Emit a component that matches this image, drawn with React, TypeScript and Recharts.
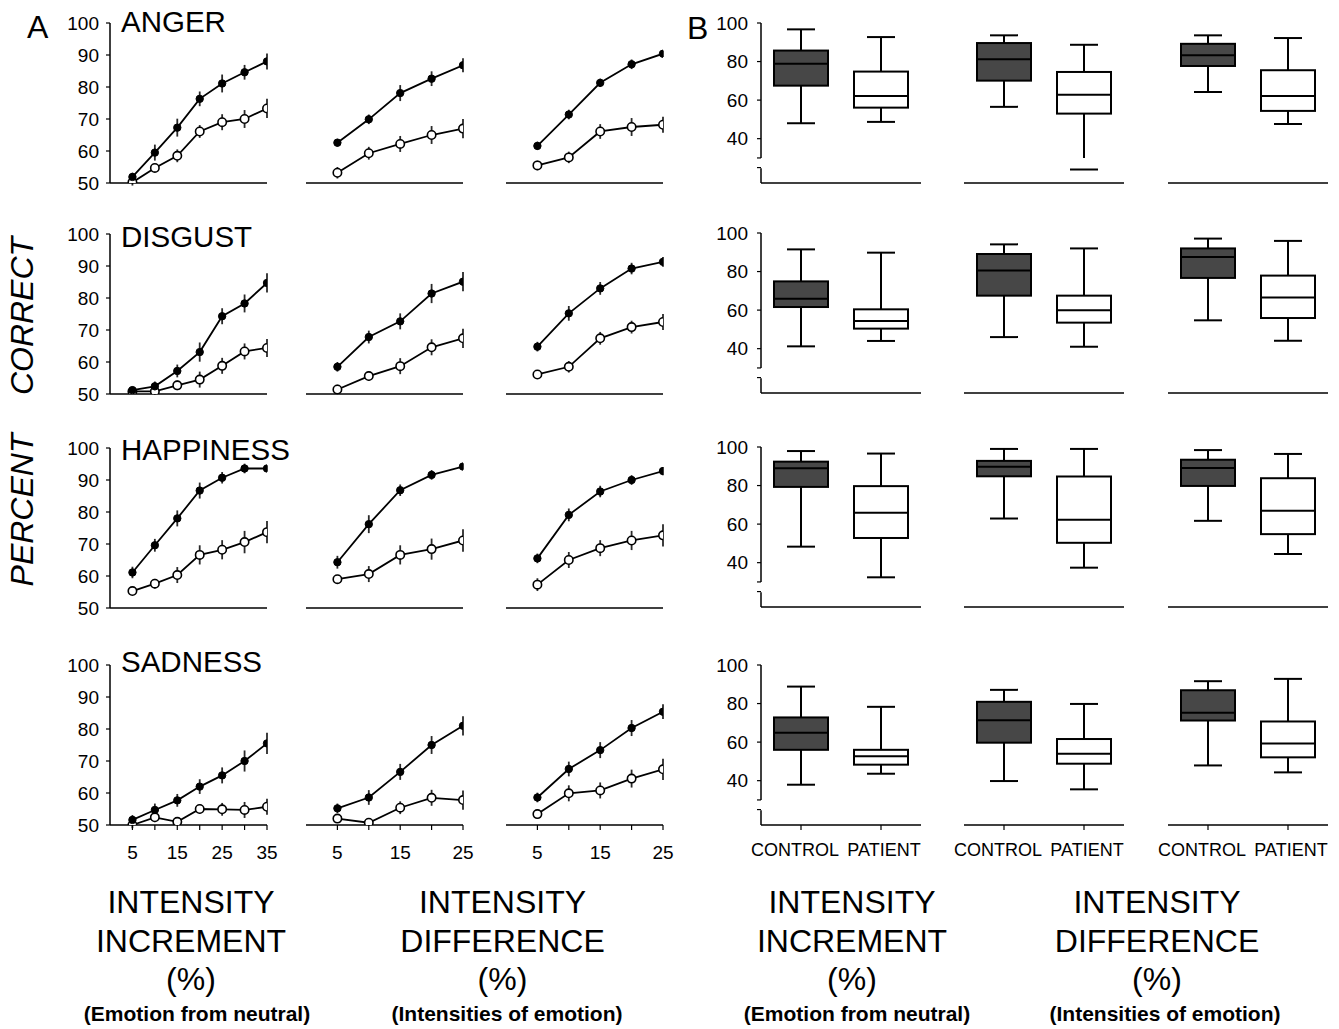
import { Bar, BarChart, ErrorBar, Line, LineChart, ReferenceLine, XAxis, YAxis } from "recharts"

const FONT = '"Liberation Sans", Arial, Helvetica, sans-serif'

const EMOTIONS = ["ANGER", "DISGUST", "HAPPINESS", "SADNESS"]
const GROUPS = ["CONTROL", "PATIENT"]

const INCREMENT_X = [5, 10, 15, 20, 25, 30, 35]
const DIFFERENCE_X = [5, 10, 15, 20, 25]
const INCREMENT_LABELS = [5, 15, 25, 35]
const DIFFERENCE_LABELS = [5, 15, 25]
const PERCENT_TICKS = [50, 60, 70, 80, 90, 100]
const BOX_TICKS = [25, 30, 40, 60, 80, 100]
const BOX_LABELS = [40, 60, 80, 100]

// panel A - mean percent correct, [increment, difference 1, difference 2]
const ANGER_CONTROL = [[51.9, 59.5, 67.3, 76.3, 81.1, 84.6, 88.0], [62.6, 69.9, 78.1, 82.6, 86.8], [61.6, 71.4, 81.3, 87.1, 90.4]]
const ANGER_CONTROL_SE = [[1.3, 2.5, 2.8, 2.3, 2.8, 2.3, 2.5], [1.2, 1.5, 2.5, 2.3, 2.2], [1.3, 1.5, 1.3, 1.5, 1.0]]
const ANGER_PATIENT = [[50.2, 54.7, 58.5, 66.1, 69.0, 70.0, 73.3], [53.2, 59.3, 62.2, 65.0, 67.0], [55.5, 58.0, 66.1, 67.5, 68.2]]
const ANGER_PATIENT_SE = [[1.0, 1.2, 2.0, 2.0, 2.5, 2.8, 3.0], [1.8, 2.0, 2.5, 2.8, 3.0], [1.5, 1.8, 2.3, 2.8, 2.5]]

const DISGUST_CONTROL = [[51.2, 52.4, 57.2, 63.1, 74.3, 78.3, 84.7], [58.5, 67.8, 72.7, 81.4, 85.1], [64.8, 75.2, 83.0, 89.2, 91.3]]
const DISGUST_CONTROL_SE = [[1.0, 1.5, 2.0, 3.0, 2.5, 2.8, 3.0], [1.5, 2.0, 2.5, 3.0, 3.0], [1.5, 2.3, 2.0, 1.8, 1.5]]
const DISGUST_PATIENT = [[50.8, 50.8, 52.7, 54.5, 58.8, 63.3, 64.4], [51.4, 55.6, 58.7, 64.6, 67.4], [56.1, 58.5, 67.4, 70.9, 72.5]]
const DISGUST_PATIENT_SE = [[0.8, 1.0, 1.5, 2.5, 2.5, 2.5, 2.8], [1.5, 1.5, 2.5, 2.5, 3.0], [1.3, 1.8, 2.0, 2.0, 2.5]]

const HAPPINESS_CONTROL = [[61.1, 69.6, 78.0, 86.7, 90.7, 93.6, 93.6], [64.3, 76.2, 86.8, 91.6, 94.2], [65.5, 79.1, 86.4, 90.0, 92.8]]
const HAPPINESS_CONTROL_SE = [[1.8, 2.0, 2.5, 2.5, 1.8, 1.5, 1.0], [2.0, 2.8, 1.8, 1.5, 1.0], [1.5, 2.0, 1.8, 1.5, 1.3]]
const HAPPINESS_PATIENT = [[55.3, 57.6, 60.3, 66.6, 68.2, 70.6, 73.7], [59.0, 60.6, 66.6, 68.4, 71.1], [57.3, 65.0, 68.7, 71.1, 72.7]]
const HAPPINESS_PATIENT_SE = [[1.0, 1.5, 2.5, 3.0, 3.0, 3.5, 3.5], [1.0, 2.5, 3.0, 3.3, 3.5], [2.0, 2.5, 2.5, 3.0, 3.5]]

const SADNESS_CONTROL = [[51.6, 54.7, 57.7, 62.0, 65.5, 70.0, 75.5], [55.2, 58.6, 66.6, 75.0, 81.0], [58.6, 67.5, 73.4, 80.3, 85.4]]
const SADNESS_CONTROL_SE = [[1.5, 2.0, 2.0, 2.3, 2.5, 3.3, 3.3], [1.5, 2.3, 2.5, 2.8, 3.0], [1.5, 2.3, 2.5, 2.5, 2.3]]
const SADNESS_PATIENT = [[50.0, 52.4, 51.0, 55.0, 54.9, 54.7, 55.7], [52.0, 50.7, 55.4, 58.5, 57.8], [53.4, 59.9, 60.8, 64.5, 67.4]]
const SADNESS_PATIENT_SE = [[1.0, 1.5, 1.0, 1.5, 2.0, 2.5, 2.5], [1.0, 1.0, 2.0, 2.5, 3.0], [1.5, 2.5, 2.5, 2.8, 3.3]]

// panel B - box stats [min, q1, median, q3, max]
const ANGER_BOX_CONTROL = [[48.0, 67.5, 78.8, 85.7, 96.7], [56.5, 70.1, 81.2, 89.6, 93.6], [64.2, 77.7, 83.3, 89.2, 93.6]]
const ANGER_BOX_PATIENT = [[48.7, 56.1, 62.1, 74.8, 92.7], [24.0, 53.0, 62.8, 74.6, 88.7], [47.6, 54.4, 62.1, 75.5, 92.2]]
const DISGUST_BOX_CONTROL = [[41.2, 61.6, 65.9, 74.9, 91.5], [46.0, 67.5, 80.6, 89.1, 94.1], [54.7, 76.7, 87.5, 92.0, 97.1]]
const DISGUST_BOX_PATIENT = [[44.0, 50.4, 54.3, 60.4, 89.8], [41.0, 53.5, 59.9, 67.5, 92.0], [44.1, 55.9, 66.6, 77.9, 95.9]]
const HAPPINESS_BOX_CONTROL = [[48.3, 79.3, 89.0, 92.4, 97.9], [62.9, 84.8, 89.7, 92.8, 99.0], [61.7, 79.8, 89.1, 93.4, 98.4]]
const HAPPINESS_BOX_PATIENT = [[32.4, 52.8, 65.9, 79.7, 96.6], [37.4, 50.3, 62.2, 84.7, 99.0], [44.5, 54.8, 66.9, 83.8, 96.4]]
const SADNESS_BOX_CONTROL = [[37.9, 56.0, 64.8, 72.8, 88.8], [39.8, 59.7, 71.4, 80.9, 87.1], [47.9, 71.2, 75.2, 86.9, 91.6]]
const SADNESS_BOX_PATIENT = [[43.6, 48.3, 52.6, 56.0, 78.3], [35.5, 48.8, 54.0, 61.6, 79.8], [44.3, 52.1, 59.3, 70.7, 92.8]]

const A_CONTROL = [ANGER_CONTROL, DISGUST_CONTROL, HAPPINESS_CONTROL, SADNESS_CONTROL]
const A_CONTROL_SE = [ANGER_CONTROL_SE, DISGUST_CONTROL_SE, HAPPINESS_CONTROL_SE, SADNESS_CONTROL_SE]
const A_PATIENT = [ANGER_PATIENT, DISGUST_PATIENT, HAPPINESS_PATIENT, SADNESS_PATIENT]
const A_PATIENT_SE = [ANGER_PATIENT_SE, DISGUST_PATIENT_SE, HAPPINESS_PATIENT_SE, SADNESS_PATIENT_SE]
const B_CONTROL = [ANGER_BOX_CONTROL, DISGUST_BOX_CONTROL, HAPPINESS_BOX_CONTROL, SADNESS_BOX_CONTROL]
const B_PATIENT = [ANGER_BOX_PATIENT, DISGUST_BOX_PATIENT, HAPPINESS_BOX_PATIENT, SADNESS_BOX_PATIENT]

// layout (page pixels)
const A_ROW_TOP = [22.7, 233.5, 447.5, 665]
const B_ROW_TOP = [22.7, 232.7, 446.7, 665]
const A_LEFT = [109.5, 306, 506]
const B_LEFT = [761, 964, 1168]
const TITLE_BASE = [31.7, 246.7, 460, 672.3]
const PLOT_H = 160
const BREAK_TOP = 30
const BREAK_BOTTOM = 24.7

const tickFont = { fill: "#000", fontSize: 19, fontFamily: FONT }

function TrendPanel({ left, top, xs, labels, control, controlSe, patient, patientSe, showY, showX }: any) {
  const plotW = 157
  const padL = 60
  const padT = 15
  const padB = 45
  const padR = 12
  const data = xs.map((x: number, i: number) => ({
    x,
    control: control[i],
    controlSe: controlSe[i],
    patient: patient[i],
    patientSe: patientSe[i],
  }))
  return (
    <div style={{ position: "absolute", left: left - padL, top: top - padT }}>
      <LineChart
        width={padL + plotW + padR}
        height={padT + PLOT_H + padB}
        data={data}
        margin={{ top: padT, right: padR, bottom: 0, left: showY ? 0 : padL }}
      >
        <XAxis
          type="number"
          dataKey="x"
          domain={[0, xs[xs.length - 1]]}
          ticks={xs}
          allowDataOverflow
          height={padB}
          stroke="#000"
          axisLine={{ stroke: "#000", strokeWidth: 1.5 }}
          tickLine={{ stroke: "#000", strokeWidth: 1.2 }}
          tickSize={5}
          tickMargin={16}
          tick={showX ? tickFont : false}
          tickFormatter={(v: number) => (labels.includes(v) ? String(v) : "")}
        />
        <YAxis
          hide={!showY}
          width={padL}
          domain={[50, 100]}
          ticks={PERCENT_TICKS}
          allowDataOverflow
          stroke="#000"
          axisLine={{ stroke: "#000", strokeWidth: 1.5 }}
          tickLine={{ stroke: "#000", strokeWidth: 1.2 }}
          tickSize={4}
          tickMargin={7}
          tick={tickFont}
        />
        <Line
          type="linear"
          dataKey="patient"
          stroke="#000"
          strokeWidth={1.8}
          dot={{ r: 4.2, fill: "#fff", stroke: "#000", strokeWidth: 1.6 }}
          activeDot={false}
          isAnimationActive={false}
        >
          <ErrorBar dataKey="patientSe" width={0} stroke="#2a2a2a" strokeWidth={1.8} direction="y" />
        </Line>
        <Line
          type="linear"
          dataKey="control"
          stroke="#000"
          strokeWidth={1.8}
          dot={{ r: 3.7, fill: "#000", stroke: "#000", strokeWidth: 1 }}
          activeDot={false}
          isAnimationActive={false}
        >
          <ErrorBar dataKey="controlSe" width={0} stroke="#2a2a2a" strokeWidth={1.8} direction="y" />
        </Line>
      </LineChart>
    </div>
  )
}

function BoxShape(props: any) {
  const { x, y, width, height } = props
  const d = props.payload || props
  const top = Math.min(y, y + height)
  const h = Math.abs(height)
  const py = (v: number) => top + ((d.hi - v) / (d.hi - d.lo)) * h
  const cx = x + width / 2
  const cap = 14
  const lowEnd = Math.max(d.lo, BREAK_TOP)
  return (
    <g stroke="#000" strokeWidth={2} fill="none">
      <line x1={cx - cap} x2={cx + cap} y1={py(d.hi)} y2={py(d.hi)} />
      <line x1={cx} x2={cx} y1={py(d.hi)} y2={py(d.q3)} />
      <line x1={cx} x2={cx} y1={py(d.q1)} y2={py(lowEnd)} />
      <line x1={cx - cap} x2={cx + cap} y1={py(d.lo)} y2={py(d.lo)} />
      <rect x={x} y={py(d.q3)} width={width} height={py(d.q1) - py(d.q3)} fill={d.fill} />
      <line x1={x} x2={x + width} y1={py(d.med)} y2={py(d.med)} />
    </g>
  )
}

function GroupTick(props: any) {
  const { x, y, payload } = props
  const dx = payload.value === "CONTROL" ? -6 : 3
  return (
    <text x={x + dx} y={y} dy="0.71em" textAnchor="middle" fill="#000" fontSize={18} fontFamily={FONT}>
      {payload.value}
    </text>
  )
}

function BoxPanel({ left, top, control, patient, showY, showX }: any) {
  const plotW = 160
  const padL = 50
  const padT = 15
  const padB = 45
  const padR = 12
  const stats = [control, patient]
  const data = GROUPS.map((group, i) => ({
    group,
    lo: stats[i][0],
    q1: stats[i][1],
    med: stats[i][2],
    q3: stats[i][3],
    hi: stats[i][4],
    fill: i === 0 ? "#474747" : "#fff",
  }))
  return (
    <div style={{ position: "absolute", left: left - padL, top: top - padT }}>
      <BarChart
        width={padL + plotW + padR}
        height={padT + PLOT_H + padB}
        data={data}
        margin={{ top: padT, right: padR, bottom: 0, left: showY ? 0 : padL }}
        barCategoryGap={0}
      >
        <XAxis
          dataKey="group"
          height={padB}
          stroke="#000"
          axisLine={{ stroke: "#000", strokeWidth: 1.5 }}
          tickLine={{ stroke: "#000", strokeWidth: 1.2 }}
          tickSize={5}
          tickMargin={13}
          tick={showX ? <GroupTick /> : false}
          interval={0}
        />
        <XAxis xAxisId="frame" type="number" domain={[0, 1]} allowDataOverflow hide />
        <YAxis
          hide={!showY}
          width={padL}
          domain={[17, 100]}
          ticks={BOX_TICKS}
          allowDataOverflow
          axisLine={false}
          stroke="#000"
          tickLine={{ stroke: "#000", strokeWidth: 1.2 }}
          tickSize={4}
          tickMargin={9}
          tick={tickFont}
          tickFormatter={(v: number) => (BOX_LABELS.includes(v) ? String(v) : "")}
        />
        {showY && (
          <ReferenceLine
            xAxisId="frame"
            segment={[{ x: 0, y: 100 }, { x: 0, y: BREAK_TOP }]}
            stroke="#000"
            strokeWidth={1.5}
            ifOverflow="visible"
          />
        )}
        {showY && (
          <ReferenceLine
            xAxisId="frame"
            segment={[{ x: 0, y: BREAK_BOTTOM }, { x: 0, y: 17 }]}
            stroke="#000"
            strokeWidth={1.5}
            ifOverflow="visible"
          />
        )}
        <Bar
          dataKey={(d: any) => [d.lo, d.hi]}
          barSize={54}
          shape={<BoxShape />}
          isAnimationActive={false}
        />
      </BarChart>
    </div>
  )
}

function Labels() {
  const big = { fontFamily: FONT, fontSize: 32, fill: "#000" }
  const sub = { fontFamily: FONT, fontSize: 21, fontWeight: 700, fill: "#000" }
  const axisLabel = (cx: number, cxSub: number, word: string, note: string) => (
    <g textAnchor="middle">
      <text x={cx} y={913.3} {...big}>INTENSITY</text>
      <text x={cx} y={951.7} {...big}>{word}</text>
      <text x={cx} y={990} {...big}>(%)</text>
      <text x={cxSub} y={1021} {...sub}>{note}</text>
    </g>
  )
  return (
    <svg width={1339} height={1029} style={{ position: "absolute", left: 0, top: 0, pointerEvents: "none" }}>
      <text x={27} y={38} fontFamily={FONT} fontSize={32} fill="#000">A</text>
      <text x={687} y={39} fontFamily={FONT} fontSize={32} fill="#000">B</text>
      {EMOTIONS.map((e, i) => (
        <text key={e} x={121} y={TITLE_BASE[i]} fontFamily={FONT} fontSize={29.5} fill="#000">
          {e}
        </text>
      ))}
      <text transform="translate(33 316) rotate(-90)" textAnchor="middle" fontFamily={FONT} fontStyle="italic" fontSize={32} fill="#000">
        CORRECT
      </text>
      <text transform="translate(33 510) rotate(-90)" textAnchor="middle" fontFamily={FONT} fontStyle="italic" fontSize={32} fill="#000">
        PERCENT
      </text>
      {axisLabel(191, 197, "INCREMENT", "(Emotion from neutral)")}
      {axisLabel(502.5, 507, "DIFFERENCE", "(Intensities of emotion)")}
      {axisLabel(852, 857, "INCREMENT", "(Emotion from neutral)")}
      {axisLabel(1157, 1165, "DIFFERENCE", "(Intensities of emotion)")}
    </svg>
  )
}

export default function App() {
  return (
    <div style={{ position: "absolute", left: 0, top: 0, width: 1339, height: 1029, background: "#fff", fontFamily: FONT }}>
      {EMOTIONS.map((e, r) =>
        A_LEFT.map((left, c) => (
          <TrendPanel
            key={`a-${e}-${c}`}
            left={left}
            top={A_ROW_TOP[r]}
            xs={c === 0 ? INCREMENT_X : DIFFERENCE_X}
            labels={c === 0 ? INCREMENT_LABELS : DIFFERENCE_LABELS}
            control={A_CONTROL[r][c]}
            controlSe={A_CONTROL_SE[r][c]}
            patient={A_PATIENT[r][c]}
            patientSe={A_PATIENT_SE[r][c]}
            showY={c === 0}
            showX={r === EMOTIONS.length - 1}
          />
        ))
      )}
      {EMOTIONS.map((e, r) =>
        B_LEFT.map((left, c) => (
          <BoxPanel
            key={`b-${e}-${c}`}
            left={left}
            top={B_ROW_TOP[r]}
            control={B_CONTROL[r][c]}
            patient={B_PATIENT[r][c]}
            showY={c === 0}
            showX={r === EMOTIONS.length - 1}
          />
        ))
      )}
      <Labels />
    </div>
  )
}
